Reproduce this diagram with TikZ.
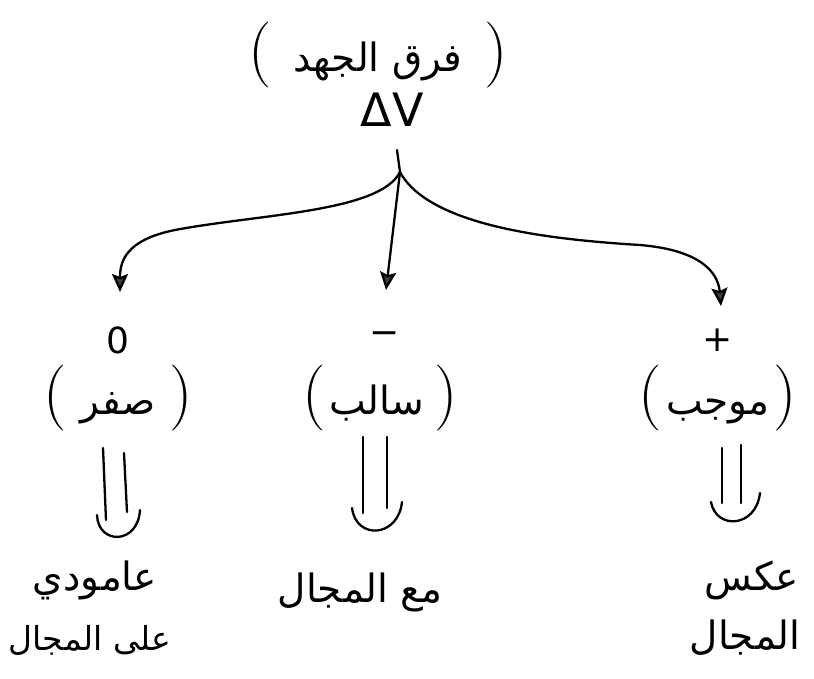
\documentclass[tikz,border=0pt]{standalone}
\usepackage{fontspec}
\usetikzlibrary{arrows.meta}
\TeXXeTstate=1
\newfontfamily\arabicfont[Script=Arabic]{DejaVu Sans}
\newfontfamily\symfont{DejaVu Sans}
\definecolor{tipgray}{HTML}{33414C}
\newcommand\artext[1]{{\arabicfont\fontsize{39}{46}\selectfont\beginR #1\endR}}
\begin{document}
\begin{tikzpicture}[x=1pt,y=-1pt,
  ar/.style={font=\arabicfont\fontsize{39}{46}\selectfont, inner sep=0pt},
  sym/.style={font=\symfont\fontsize{36}{36}\selectfont, inner sep=0pt},
  par/.style={font=\fontsize{66}{66}\selectfont, inner sep=0pt},
  stroke/.style={line width=2.3pt, line cap=round, black},
  conn/.style={stroke, -{Stealth[length=18pt,width=16pt,inset=3pt,fill=tipgray]}},
  dbl/.style={stroke}
]
\useasboundingbox (0,0) rectangle (814,678);
\fill[white] (0,0) rectangle (814,678);

% top
\node[par] (t) at (378,55) {(\hspace{22pt}\artext{فرق الجهد}\hspace{22pt})};
\node[sym, font=\symfont\fontsize{46}{46}\selectfont] (dv) at (392,110) {ΔV};
\coordinate (j) at (400,172);
\draw[stroke] (397,150) -- (j);

% branch labels
\node[sym] (z0) at (118,340) {0};
\node[sym] (n0) at (385,338) {−};
\node[sym] (p0) at (718,340) {+};
\node[par] (zl) at (118,398) {(\hspace{14pt}\artext{صفر}\hspace{14pt})};
\node[par] (nl) at (380,398) {(\hspace{4pt}\artext{سالب}\hspace{10pt})};
\node[par] (pl) at (718,398) {(\hspace{4pt}\artext{موجب}\hspace{4pt})};

% arrow ends
\coordinate (a0) at (120,292);
\coordinate (a1) at (386,290);
\coordinate (a2) at (721,306);
\draw[conn] (j) .. controls (380,212) and (260,214) .. (175,230) .. controls (125,240) and (120,262) .. (a0);
\draw[conn] (j) -- (a1);
\draw[conn] (j) .. controls (430,228) and (560,240) .. (640,245) .. controls (700,250) and (718,272) .. (a2);

% double arrows
\draw[dbl] (103,448) -- (106,520);
\draw[dbl] (124,453) -- (127,512);
\draw[dbl] (97,515) .. controls (98,545) and (138,545) .. (140,510);
\draw[dbl] (363,437) -- (363,513);
\draw[dbl] (387,437) -- (387,508);
\draw[dbl] (352,508) .. controls (356,540) and (398,538) .. (402,502);
\draw[dbl] (722,448) -- (722,503);
\draw[dbl] (741,445) -- (741,503);
\draw[dbl] (711,502) .. controls (716,530) and (756,528) .. (760,493);

% bottom texts
\node[ar] (b0a) at (95,580) {\beginR عامودي\endR};
\node[ar, font=\arabicfont\fontsize{33}{40}\selectfont] (b0b) at (90,640) {\beginR على المجال\endR};
\node[ar] (bn) at (360,592) {\beginR مع المجال\endR};
\node[ar] (bpa) at (752,580) {\beginR عكس\endR};
\node[ar] (bpb) at (745,638) {\beginR المجال\endR};
\end{tikzpicture}
\end{document}
